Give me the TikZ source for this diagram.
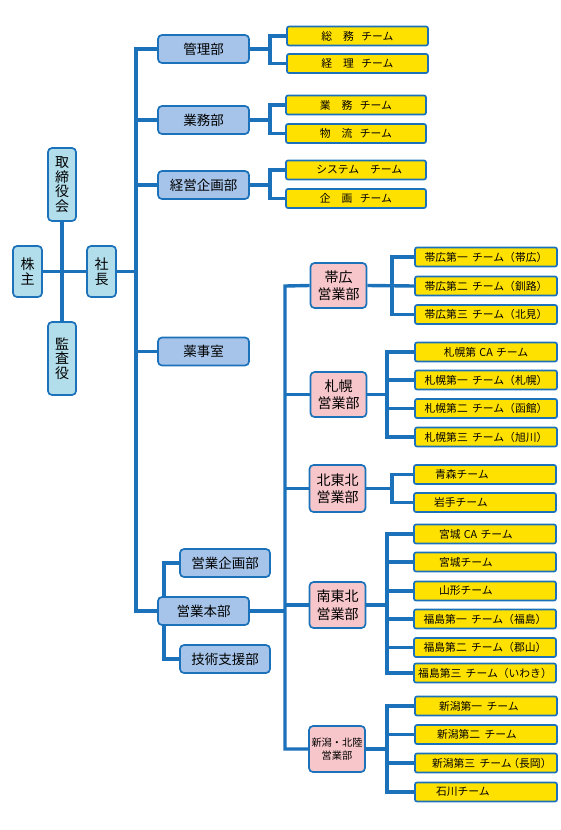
\documentclass[tikz,border=0pt]{standalone}
\usepackage{fontspec}
\setmainfont{Noto Sans CJK JP}
\usetikzlibrary{backgrounds}
\definecolor{lineblue}{RGB}{27,114,187}
\definecolor{leftfill}{RGB}{178,221,235}
\definecolor{deptfill}{RGB}{166,196,233}
\definecolor{pinkfill}{RGB}{247,198,202}
\definecolor{yel}{RGB}{255,225,0}
\begin{document}
\begin{tikzpicture}[x=1pt,y=-1pt,
  box/.style={draw=lineblue, line width=1.7pt, rounded corners=4pt, inner sep=0pt, align=center, text=black},
  lbox/.style={box, fill=leftfill, minimum width=29pt, font=\fontsize{14}{14.5}\selectfont},
  dbox/.style={box, fill=deptfill, minimum width=91pt, minimum height=28pt, font=\fontsize{13.5}{15}\selectfont},
  pbox/.style={box, fill=pinkfill, minimum width=56pt, minimum height=46pt, font=\fontsize{14}{17.5}\selectfont},
  ybox/.style={box, rounded corners=2pt, fill=yel, minimum width=142pt, minimum height=19pt, font=\fontsize{10.8}{12}\selectfont},
  yleft/.style={ybox, text width=142pt, align=left},
  conn/.style={draw=lineblue, line width=3.4pt}]
\useasboundingbox (0,0) rectangle (560,830);

% left column
\node[lbox, minimum height=51pt] (kabu) at (27.5,271.5) {株\\主};
\node[lbox, minimum height=73pt, minimum width=28pt] (tori) at (62,184.5) {取\\締\\役\\会};
\node[lbox, minimum height=73pt, minimum width=28pt] (kansa) at (62,358.5) {監\\査\\役};
\node[lbox, minimum height=51pt] (shacho) at (101.5,271.5) {社\\長};

% departments
\node[dbox] (kanri) at (203.5,49) {管理部};
\node[dbox] (gyomu) at (203.5,120) {業務部};
\node[dbox] (keiei) at (203.5,185) {経営企画部};
\node[dbox] (yakuji) at (203.5,351.5) {薬事室};
\node[dbox] (honbu) at (203.5,611) {営業本部};
\node[dbox, minimum width=90pt] (eikikaku) at (225,563) {営業企画部};
\node[dbox, minimum width=90pt] (gijutsu) at (225,659) {技術支援部};

% top teams
\node[ybox, minimum width=141pt] (soumu) at (357.5,36) {総\hspace{1em}務\hspace{0.7em}チーム};
\node[ybox, minimum width=141pt] (keiri) at (357.5,63.5) {経\hspace{1em}理\hspace{0.7em}チーム};
\node[ybox, minimum width=140pt] (gyomuT) at (356,105) {業\hspace{1em}務\hspace{0.7em}チーム};
\node[ybox, minimum width=140pt] (butsu) at (356,133.5) {物\hspace{1em}流\hspace{0.7em}チーム};
\node[ybox, minimum width=140pt] (system) at (356,170) {\hspace{0.6em}システム\hspace{1em}チーム};
\node[ybox, minimum width=140pt] (kikaku) at (356,198.5) {企\hspace{1em}画\hspace{0.7em}チーム};

% sales departments
\node[pbox, minimum height=45pt] (obihiro) at (338.5,285.5) {帯広\\営業部};
\node[pbox, minimum height=45pt] (sapporo) at (338.5,394.5) {札幌\\営業部};
\node[pbox, minimum height=47pt] (kita) at (337.5,488.5) {北東北\\営業部};
\node[pbox] (minami) at (337.5,605) {南東北\\営業部};
\node[pbox, font=\fontsize{10.2}{12.5}\selectfont] (niigata) at (337,749) {新潟・北陸\\営業部};

% sales teams
\node[ybox] (ob1) at (486,257) {帯広第一\hspace{0.4em}チーム（帯広）};
\node[ybox] (ob2) at (486,286) {帯広第二\hspace{0.4em}チーム（釧路）};
\node[ybox] (ob3) at (486,314.5) {帯広第三\hspace{0.4em}チーム（北見）};
\node[ybox] (sp0) at (486,352) {札幌第\hspace{0.3em}CA\hspace{0.3em}チーム};
\node[ybox] (sp1) at (486,380) {札幌第一\hspace{0.4em}チーム（札幌）};
\node[ybox] (sp2) at (486,408.5) {札幌第二\hspace{0.4em}チーム（函館）};
\node[ybox] (sp3) at (486,437) {札幌第三\hspace{0.4em}チーム（旭川）};
\node[yleft] (ao) at (485,474.5) {\hspace*{21pt}青森チーム};
\node[yleft] (iw) at (485,502.5) {\hspace*{20pt}岩手チーム};
\node[yleft] (mg0) at (485,534) {\hspace*{25pt}宮城\hspace{0.3em}CA\hspace{0.3em}チーム};
\node[yleft] (mg) at (485,562) {\hspace*{25pt}宮城チーム};
\node[yleft] (ym) at (485,591) {\hspace*{25pt}山形チーム};
\node[ybox] (fk1) at (485,619) {福島第一\hspace{0.4em}チーム（福島）};
\node[ybox] (fk2) at (485,647.5) {福島第二\hspace{0.4em}チーム（郡山）};
\node[ybox] (fk3) at (485,673) {福島第三\hspace{0.4em}チーム（いわき）};
\node[yleft] (ng1) at (486,706) {\hspace*{24pt}新潟第一\hspace{0.4em}チーム};
\node[yleft] (ng2) at (486,734.5) {\hspace*{22pt}新潟第二\hspace{0.4em}チーム};
\node[yleft] (ng3) at (486,763) {\hspace*{17pt}新潟第三\hspace{0.4em}チーム\hspace{-0.3em}（長岡）};
\node[yleft] (is) at (486,792) {\hspace*{21pt}石川チーム};

% junction coordinates
\coordinate (trTop) at (136,49);
\coordinate (trBot) at (136,611);
\coordinate (hx) at (164,611);
\coordinate (t2top) at (285,286);
\coordinate (t2bot) at (285,749);
\coordinate (j1) at (270,49);
\coordinate (j2) at (270,120);
\coordinate (j3) at (270,185);
\coordinate (jo) at (392,286);
\coordinate (js) at (387,394.5);
\coordinate (jk) at (392,488.5);
\coordinate (jm) at (387,605);
\coordinate (jn) at (387,749);

\begin{scope}[on background layer]
\fill[white] (0,0) rectangle (560,830);
\draw[conn] (kabu.east) -- (shacho.west);
\draw[conn] (tori.south) -- (kansa.north);
\draw[conn] (shacho.east) -- (shacho.east -| trTop);
\draw[conn] (kanri.west) -- (trTop) -- (trBot) -- (honbu.west);
\draw[conn] (gyomu.west) -- (gyomu.west -| trTop);
\draw[conn] (keiei.west) -- (keiei.west -| trTop);
\draw[conn] (yakuji.west) -- (yakuji.west -| trTop);
\draw[conn] (eikikaku.west) -| (honbu.north -| hx);
\draw[conn] (gijutsu.west) -| (honbu.south -| hx);
\draw[conn] (kanri.east) -- (j1);
\draw[conn] (soumu.west) -| (j1) |- (keiri.west);
\draw[conn] (gyomu.east) -- (j2);
\draw[conn] (gyomuT.west) -| (j2) |- (butsu.west);
\draw[conn] (keiei.east) -- (j3);
\draw[conn] (system.west) -| (j3) |- (kikaku.west);
\draw[conn] (honbu.east) -- (honbu.east -| t2top);
\draw[conn] (obihiro.west) -- (t2top) -- (t2bot) -- (niigata.west);
\draw[conn] (sapporo.west) -- (sapporo.west -| t2top);
\draw[conn] (kita.west) -- (kita.west -| t2top);
\draw[conn] (minami.west) -- (minami.west -| t2top);
% obihiro
\draw[conn] (obihiro.east) -- (ob2.west);
\draw[conn] (ob1.west) -| (jo) |- (ob3.west);
% sapporo
\draw[conn] (sapporo.east) -- (js);
\draw[conn] (sp0.west) -| (js) |- (sp3.west);
\draw[conn] (sp1.west) -- (sp1.west -| js);
\draw[conn] (sp2.west) -- (sp2.west -| js);
% kita
\draw[conn] (kita.east) -- (jk);
\draw[conn] (ao.west) -| (jk) |- (iw.west);
% minami
\draw[conn] (minami.east) -- (jm);
\draw[conn] (mg0.west) -| (jm) |- (fk3.west);
\draw[conn] (mg.west) -- (mg.west -| jm);
\draw[conn] (ym.west) -- (ym.west -| jm);
\draw[conn] (fk1.west) -- (fk1.west -| jm);
\draw[conn] (fk2.west) -- (fk2.west -| jm);
% niigata
\draw[conn] (niigata.east) -- (jn);
\draw[conn] (ng1.west) -| (jn) |- (is.west);
\draw[conn] (ng2.west) -- (ng2.west -| jn);
\draw[conn] (ng3.west) -- (ng3.west -| jn);
\end{scope}
\end{tikzpicture}
\end{document}
